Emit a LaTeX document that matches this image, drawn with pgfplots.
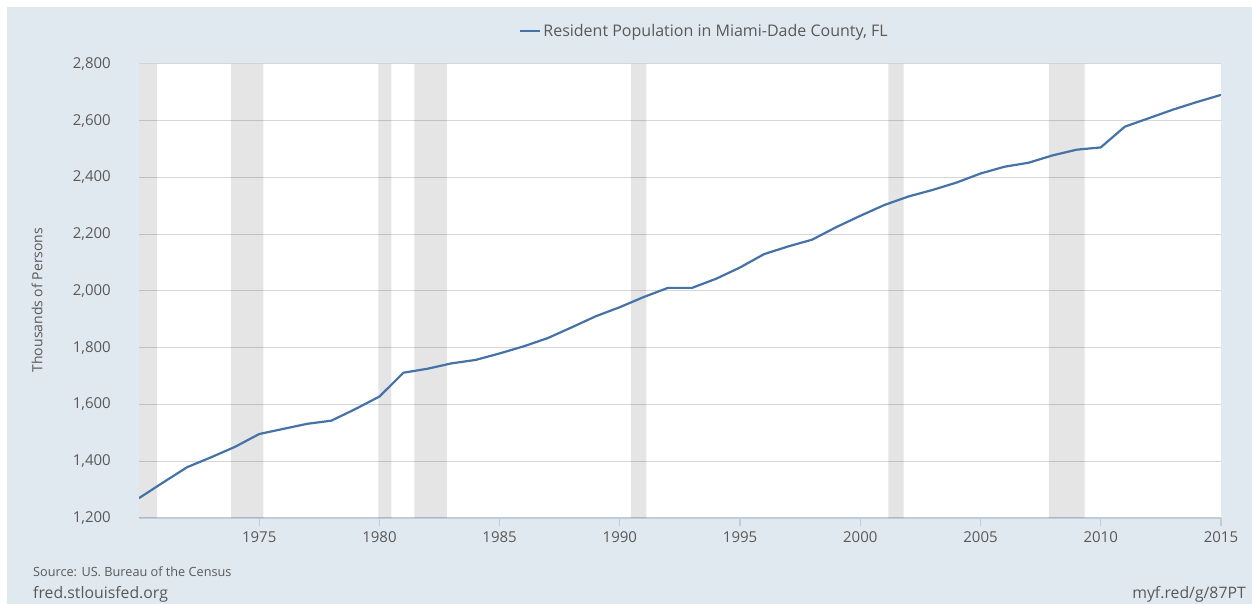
\documentclass[border=0pt]{standalone}
\usepackage{fontspec}
\setmainfont{Open Sans}
\usepackage{pgfplots}
\pgfplotsset{compat=1.18}
\definecolor{bg}{HTML}{E1E9F0}
\definecolor{serie}{HTML}{4572A7}
\definecolor{gridc}{HTML}{D6D6D6}
\definecolor{txt}{HTML}{595959}
\definecolor{axisc}{HTML}{BFCCDA}
\begin{document}
\begin{tikzpicture}[x=1pt,y=1pt]
\fill[white] (0,0) rectangle (1252,604);
\fill[bg] (7,0) rectangle (1252,597);
\begin{axis}[
  at={(139pt,86pt)}, anchor=south west,
  scale only axis, width=1082pt, height=454pt,
  xmin=1970, xmax=2015, ymin=1200, ymax=2800,
  axis background/.style={fill=white},
  axis x line*=bottom, axis y line*=left,
  y axis line style={draw=none},
  x axis line style={axisc, line width=1.2pt},
  xtick={1975,1980,...,2015},
  ytick={1200,1400,...,2800},
  ytick style={draw=none},
  xtick style={axisc, line width=1.2pt},
  tick align=outside, major tick length=8pt,
  ymajorgrids, major grid style={gridc, line width=1pt},
  /pgf/number format/assume math mode=true,
  yticklabel style={font=\fontsize{15}{18}\selectfont, text=txt, anchor=east, inner sep=0pt, xshift=-20pt,
    /pgf/number format/1000 sep={,}},
  xticklabel style={font=\fontsize{15}{18}\selectfont, text=txt, anchor=north, inner sep=0pt, yshift=-5pt,
    /pgf/number format/1000 sep={}},
  ylabel={Thousands of Persons},
  ylabel style={font=\fontsize{14}{17}\selectfont, text=txt, at={(axis description cs:-0.0943,0.48)}, anchor=center},
  legend style={at={(axis description cs:0.5226,1.0727)}, anchor=center, draw=none, fill=none,
    font=\fontsize{16}{19}\selectfont, text=txt, inner sep=0pt},
  legend image code/.code={\draw[#1] (0pt,0pt) -- (20pt,0pt);},
]
\addplot[fill=black, fill opacity=0.1, draw=none, forget plot] coordinates {(1970,1200) (1970.75,1200) (1970.75,2800) (1970,2800)} \closedcycle;
\addplot[fill=black, fill opacity=0.1, draw=none, forget plot] coordinates {(1973.83,1200) (1975.17,1200) (1975.17,2800) (1973.83,2800)} \closedcycle;
\addplot[fill=black, fill opacity=0.1, draw=none, forget plot] coordinates {(1979.96,1200) (1980.5,1200) (1980.5,2800) (1979.96,2800)} \closedcycle;
\addplot[fill=black, fill opacity=0.1, draw=none, forget plot] coordinates {(1981.45,1200) (1982.8,1200) (1982.8,2800) (1981.45,2800)} \closedcycle;
\addplot[fill=black, fill opacity=0.1, draw=none, forget plot] coordinates {(1990.46,1200) (1991.1,1200) (1991.1,2800) (1990.46,2800)} \closedcycle;
\addplot[fill=black, fill opacity=0.1, draw=none, forget plot] coordinates {(2001.17,1200) (2001.8,1200) (2001.8,2800) (2001.17,2800)} \closedcycle;
\addplot[fill=black, fill opacity=0.1, draw=none, forget plot] coordinates {(2007.84,1200) (2009.33,1200) (2009.33,2800) (2007.84,2800)} \closedcycle;
\addplot[serie, line width=2.2pt, line join=round] coordinates {
(1970,1270) (1971,1325) (1972,1379) (1973,1414) (1974,1451) (1975,1496)
(1976,1514) (1977,1532) (1978,1543) (1979,1584) (1980,1628) (1981,1712)
(1982,1726) (1983,1745) (1984,1757) (1985,1780) (1986,1805) (1987,1834)
(1988,1872) (1989,1911) (1990,1943) (1991,1979) (1992,2011) (1993,2011)
(1994,2043) (1995,2083) (1996,2130) (1997,2157) (1998,2181) (1999,2225)
(2000,2265) (2001,2303) (2002,2333) (2003,2356) (2004,2382) (2005,2414)
(2006,2438) (2007,2452) (2008,2478) (2009,2498) (2010,2506) (2011,2579)
(2012,2609) (2013,2639) (2014,2666) (2015,2691)
};
\addlegendentry{Resident Population in Miami-Dade County, FL}
\end{axis}
\node[anchor=base west, text=txt, font=\fontsize{12.7}{15}\selectfont, inner sep=0pt] at (33,27) {Source: US. Bureau of the Census};
\node[anchor=base west, text=txt, font=\fontsize{15.8}{18}\selectfont, inner sep=0pt] at (33,5) {fred.stlouisfed.org};
\node[anchor=base east, text=txt, font=\fontsize{15.8}{18}\selectfont, inner sep=0pt] at (1246,5) {myf.red/g/87PT};
\end{tikzpicture}
\end{document}
